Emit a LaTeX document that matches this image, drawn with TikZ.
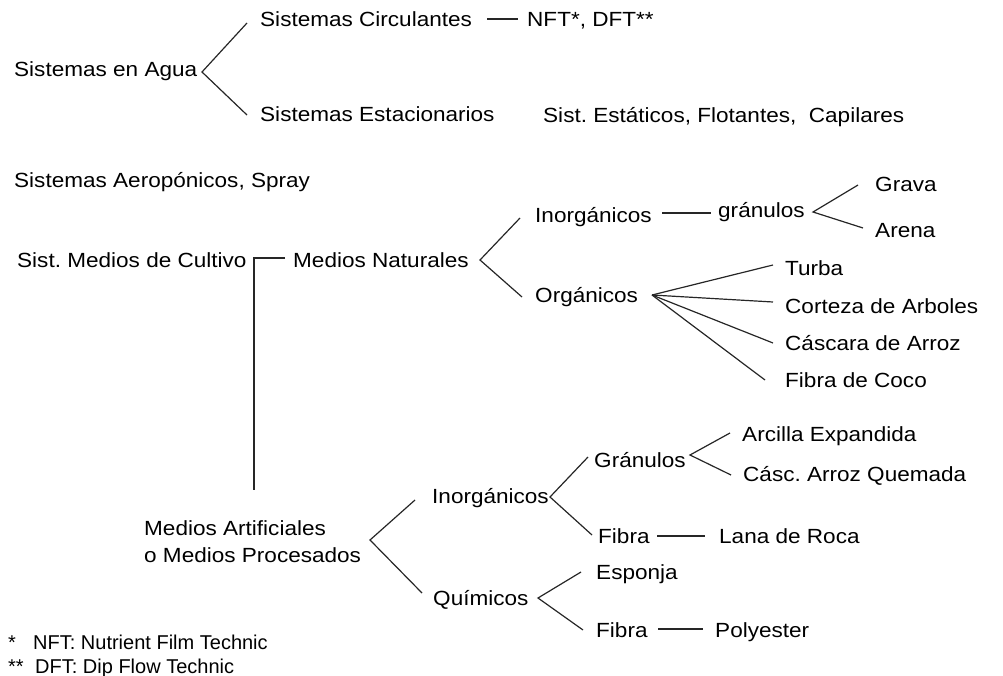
\documentclass[tikz,border=0pt]{standalone}
\usepackage{fontspec}
\setmainfont{Liberation Sans}[FakeStretch=1.1]
\newfontfamily\fnfont{Liberation Sans}
\frenchspacing
\begin{document}
\begin{tikzpicture}[x=1pt,y=-1pt,
  lbl/.style={anchor=base west,inner sep=0pt,font=\fontsize{20.5}{27}\selectfont},
  fn/.style={anchor=base west,inner sep=0pt,font=\fnfont\fontsize{20}{24}\selectfont},
  ln/.style={line width=1.2pt,black!85}]
\useasboundingbox (0,0) rectangle (1003,676);
% nodes
\node[lbl] (agua) at (14,77) {Sistemas en Agua};
\node[lbl] (circ) at (260,27) {Sistemas Circulantes};
\node[lbl] (nft) at (527,27) {NFT*, DFT**};
\node[lbl] (estac) at (260,122) {Sistemas Estacionarios};
\node[lbl] (estat) at (543,123) {Sist. Estáticos, Flotantes,\ \ Capilares};
\node[lbl] (aero) at (14,188) {Sistemas Aeropónicos, Spray};
\node[lbl] (medios) at (17,268) {Sist. Medios de Cultivo};
\node[lbl] (nat) at (293,268) {Medios Naturales};
\node[lbl] (inorg) at (535,223) {Inorgánicos};
\node[lbl] (gran) at (718,218) {gránulos};
\node[lbl] (grava) at (875,192) {Grava};
\node[lbl] (arena) at (875,238) {Arena};
\node[lbl] (org) at (535,302) {Orgánicos};
\node[lbl] (turba) at (785,275) {Turba};
\node[lbl] (corteza) at (785,313) {Corteza de Arboles};
\node[lbl] (cascara) at (785,350) {Cáscara de Arroz};
\node[lbl] (coco) at (785,387) {Fibra de Coco};
\node[lbl,align=left] (artif) at (144,562) {Medios Artificiales\\o Medios Procesados};
\node[lbl] (inorgb) at (432,503) {Inorgánicos};
\node[lbl] (granb) at (594,467) {Gránulos};
\node[lbl] (arcilla) at (742,441) {Arcilla Expandida};
\node[lbl] (casc) at (743,481) {Cásc. Arroz Quemada};
\node[lbl] (fibra) at (598,543) {Fibra};
\node[lbl] (lana) at (719,543) {Lana de Roca};
\node[lbl] (quim) at (433,605) {Químicos};
\node[lbl] (esponja) at (596,579) {Esponja};
\node[lbl] (fibrab) at (596,637) {Fibra};
\node[lbl] (poly) at (715,637) {Polyester};
\node[fn] (fa) at (8,649) {*};
\node[fn] (fnA) at (33,649) {NFT: Nutrient Film Technic};
\node[fn] (fb) at (8,673) {**};
\node[fn] (fnB) at (35,673) {DFT: Dip Flow Technic};
% branch coordinates
\coordinate (b1) at (202,72); \coordinate (b1u) at (247,23); \coordinate (b1d) at (247,115);
\coordinate (d1a) at (487,19); \coordinate (d1b) at (518,19);
\coordinate (k1) at (285,258); \coordinate (k2) at (254,258); \coordinate (k3) at (254,490);
\coordinate (b2) at (480,260); \coordinate (b2u) at (520,218); \coordinate (b2d) at (522,297);
\coordinate (d2a) at (662,213); \coordinate (d2b) at (711,213);
\coordinate (b3) at (813,212); \coordinate (b3u) at (858,185); \coordinate (b3d) at (863,228);
\coordinate (f0) at (652,295); \coordinate (f1) at (773,265); \coordinate (f2) at (773,302);
\coordinate (f3) at (773,343); \coordinate (f4) at (765,380);
\coordinate (b4) at (370,540); \coordinate (b4u) at (415,500); \coordinate (b4d) at (422,593);
\coordinate (b5) at (550,497); \coordinate (b5u) at (588,457); \coordinate (b5d) at (592,535);
\coordinate (b6) at (690,455); \coordinate (b6u) at (730,433); \coordinate (b6d) at (731,475);
\coordinate (d3a) at (657,536); \coordinate (d3b) at (705,536);
\coordinate (b7) at (538,598); \coordinate (b7u) at (581,572); \coordinate (b7d) at (583,630);
\coordinate (d4a) at (658,629); \coordinate (d4b) at (703,629);
% connectors
\draw[ln] (b1u) -- (b1) -- (b1d);
\draw[ln] (d1a) -- (d1b);
\draw[ln] (k1) -- (k2) -- (k3);
\draw[ln] (b2u) -- (b2) -- (b2d);
\draw[ln] (d2a) -- (d2b);
\draw[ln] (b3u) -- (b3) -- (b3d);
\draw[ln] (f0) -- (f1); \draw[ln] (f0) -- (f2); \draw[ln] (f0) -- (f3); \draw[ln] (f0) -- (f4);
\draw[ln] (b4u) -- (b4) -- (b4d);
\draw[ln] (b5u) -- (b5) -- (b5d);
\draw[ln] (b6u) -- (b6) -- (b6d);
\draw[ln] (d3a) -- (d3b);
\draw[ln] (b7u) -- (b7) -- (b7d);
\draw[ln] (d4a) -- (d4b);
\end{tikzpicture}
\end{document}
